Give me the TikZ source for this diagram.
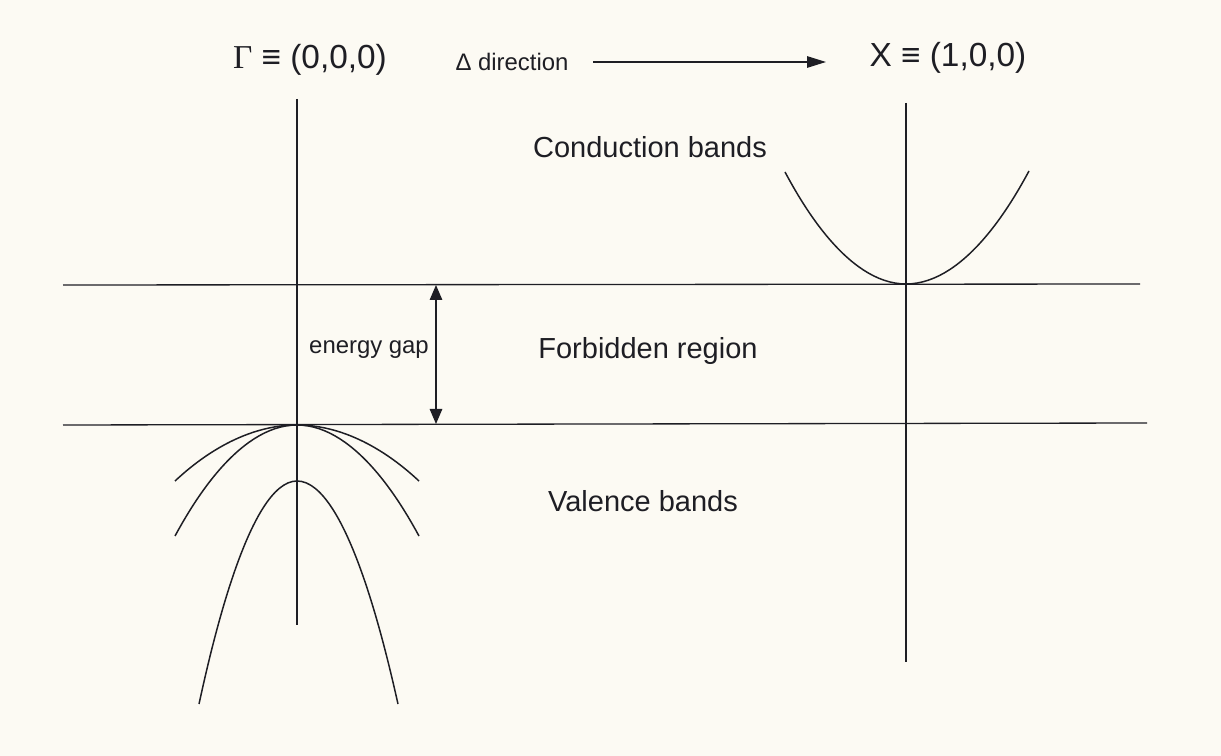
\documentclass[tikz,border=0pt]{standalone}
\usepackage{fontspec}
\setmainfont{Liberation Sans}
\newfontfamily\seriffont{Liberation Serif}
\usetikzlibrary{arrows.meta,positioning}
\definecolor{papercream}{RGB}{252,250,243}
\definecolor{inkgray}{RGB}{30,30,36}

\begin{document}
\begin{tikzpicture}[
    x=0.02cm, y=-0.02cm,
    line width=0.75pt,
    draw=inkgray,
    axis/.style={draw=inkgray, line width=0.75pt},
    band/.style={draw=inkgray, line width=0.85pt},
    big/.style={
        text=inkgray,
        inner sep=0pt,
        font=\fontsize{19}{22}\selectfont
    },
    region/.style={
        text=inkgray,
        inner sep=0pt,
        font=\fontsize{16.5}{20}\selectfont
    },
    small/.style={
        text=inkgray,
        inner sep=0pt,
        font=\fontsize{13.6}{16}\selectfont
    },
    dirarr/.style={-{Triangle[length=3.8mm,width=2.3mm]}, draw=inkgray, line width=0.75pt},
    gaparr/.style={{Triangle[length=3mm,width=2.5mm]}-{Triangle[length=3mm,width=2.5mm]}, draw=inkgray, line width=0.75pt}
]

% paper
\fill[papercream] (0,0) rectangle (1221,756);

% top labels
\node[big] (gam) at (310,60) {{\seriffont Γ} ≡ (0,0,0)};
\node[small] (dir) at (512,62) {Δ direction};
\node[big] (xpt) at (948,58) {X ≡ (1,0,0)};
\coordinate (dirend) at (826,62);
\draw[dirarr] (dir.east) ++(24,0) coordinate (dirstart) -- (dirend);

% symmetry axes
\coordinate (gtop) at (297,99);
\coordinate (gbot) at (297,625);
\coordinate (xtop) at (906,103);
\coordinate (xbot) at (906,662);
\draw[axis] (gtop) -- (gbot);
\draw[axis] (xtop) -- (xbot);

% band edges
\coordinate (cbl) at (63,285);
\coordinate (cbr) at (1140,284);
\coordinate (vbl) at (63,425);
\coordinate (vbr) at (1147,423);
\draw[axis] (cbl) -- (cbr);
\draw[axis] (vbl) -- (vbr);

% conduction band minimum at X
\coordinate (cmin) at (906,284);
\draw[band] (785,172) parabola bend (cmin) (1029,171);

% valence bands at Gamma
\coordinate (vmax) at (297,425);
\coordinate (somax) at (297,481);
\draw[band] (175,481) parabola bend (vmax) (419,481);
\draw[band] (175,536) parabola bend (vmax) (419,536);
\draw[band] (199,704) parabola bend (somax) (398,704);

% gap
\coordinate (gapt) at (436,285);
\coordinate (gapb) at (436,424);
\draw[gaparr] (gapt) -- (gapb);
\node[small] (gaptxt) at (369,350) {energy gap};

% region labels
\node[region] (cond) at (650,147) {Conduction bands};
\node[region] (forb) at (648,351) {Forbidden region};
\node[region] (val) at (643,501) {Valence bands};

\end{tikzpicture}
\end{document}
